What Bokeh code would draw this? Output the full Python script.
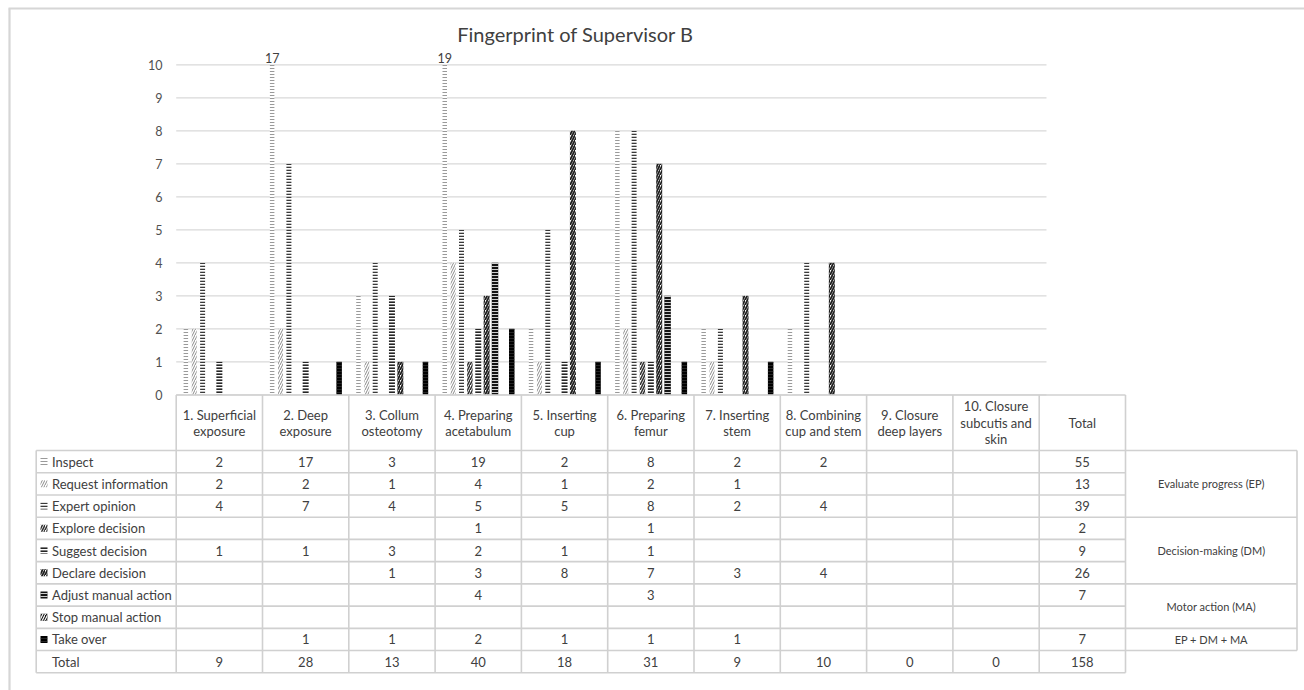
import numpy as np
from bokeh.plotting import figure
from bokeh.models import Range1d, ColumnDataSource
from bokeh.core.properties import value
from bokeh.transform import dodge
from bokeh.embed import file_html
from bokeh.resources import INLINE

# ---------------- data ----------------
title = "Fingerprint of Supervisor B"
phases = ["1. Superficial\nexposure", "2. Deep\nexposure", "3. Collum\nosteotomy",
          "4. Preparing\nacetabulum", "5. Inserting\ncup", "6. Preparing\nfemur",
          "7. Inserting\nstem", "8. Combining\ncup and stem", "9. Closure\ndeep layers",
          "10. Closure\nsubcutis and\nskin"]
behaviours = ["Inspect", "Request information", "Expert opinion", "Explore decision",
              "Suggest decision", "Declare decision", "Adjust manual action",
              "Stop manual action", "Take over"]

inspect = [2, 17, 3, 19, 2, 8, 2, 2, None, None]
request_information = [2, 2, 1, 4, 1, 2, 1, None, None, None]
expert_opinion = [4, 7, 4, 5, 5, 8, 2, 4, None, None]
explore_decision = [None, None, None, 1, None, 1, None, None, None, None]
suggest_decision = [1, 1, 3, 2, 1, 1, None, None, None, None]
declare_decision = [None, None, 1, 3, 8, 7, 3, 4, None, None]
adjust_manual_action = [None, None, None, 4, None, 3, None, None, None, None]
stop_manual_action = [None, None, None, None, None, None, None, None, None, None]
take_over = [None, 1, 1, 2, 1, 1, 1, None, None, None]

series = [inspect, request_information, expert_opinion, explore_decision, suggest_decision,
          declare_decision, adjust_manual_action, stop_manual_action, take_over]

phase_totals = [9, 28, 13, 40, 18, 31, 9, 10, 0, 0]
behaviour_totals = [55, 13, 39, 2, 9, 26, 7, None, 7]
grand_total = 158
total_label = "Total"

groups = ["Evaluate progress (EP)", "Decision-making (DM)", "Motor action (MA)", "EP + DM + MA"]
group_first_row = [0, 3, 6, 8]
group_last_row = [3, 6, 8, 9]

y_ticks = list(range(0, 11))
axis_max = 10

# ---------------- layout (pixels) ----------------
W, H = 1304, 690
PX_X = 86.3              # px per phase column
X0_PX = 175.7            # pixel of x = 0
PX_Y = 33.0              # px per value unit
Y0_PX = 394.3            # pixel of value 0
ROW_PX = 22.23           # px per table row
R0_PX = 450.0            # pixel of first table row top


def px2x(px):
    return (px - X0_PX) / PX_X


def py2y(py):
    return (Y0_PX - py) / PX_Y


x_start, x_end = px2x(0), px2x(W)
y_start, y_end = py2y(H), py2y(0)
r_top = (0 - R0_PX) / ROW_PX
r_bottom = (H - R0_PX) / ROW_PX

SLOT = 8.375 / PX_X
LABEL_COL_LEFT = px2x(35.7)
GROUP_COL_RIGHT = px2x(1296.5)
GRID_RIGHT = px2x(1046)

FONT = value("Lato")
TXT = "#404040"
LINE = "#d0d0d0"

styles = [
    dict(fill_color="white", hatch_pattern="horizontal_line", hatch_color="#9a9a9a", hatch_weight=1.0, hatch_scale=3, w=4.5),
    dict(fill_color="white", hatch_pattern="right_diagonal_line", hatch_color="#8a8a8a", hatch_weight=1.0, hatch_scale=5, w=5),
    dict(fill_color="white", hatch_pattern="horizontal_line", hatch_color="#3a3a3a", hatch_weight=1.6, hatch_scale=3, w=5),
    dict(fill_color="white", hatch_pattern="right_diagonal_line", hatch_color="#333333", hatch_weight=1.6, hatch_scale=5, w=5.5),
    dict(fill_color="white", hatch_pattern="horizontal_line", hatch_color="#262626", hatch_weight=2.2, hatch_scale=3, w=6),
    dict(fill_color="white", hatch_pattern="right_diagonal_line", hatch_color="#1e1e1e", hatch_weight=1.8, hatch_scale=5, w=6),
    dict(fill_color="#141414", hatch_pattern="horizontal_line", hatch_color="white", hatch_weight=0.8, hatch_scale=3, w=6.5),
    dict(fill_color="#141414", hatch_pattern="right_diagonal_line", hatch_color="white", hatch_weight=1.2, hatch_scale=5, w=6.5),
    dict(fill_color="#000000", hatch_pattern="horizontal_line", hatch_color="#4a4a4a", hatch_weight=0.5, hatch_scale=3, w=5.5),
]

p = figure(width=W, height=H, x_range=Range1d(x_start, x_end), y_range=Range1d(y_start, y_end),
           output_backend="svg", toolbar_location=None, min_border=0,
           x_axis_type=None, y_axis_type=None)
p.extra_y_ranges = {"tbl": Range1d(start=r_bottom, end=r_top)}
p.grid.visible = False
p.outline_line_color = None
p.background_fill_color = "white"
p.border_fill_color = "white"

# outer frame (top + left)
p.segment(x0=[px2x(8), px2x(9)], y0=[py2y(8), py2y(8)],
          x1=[x_end, px2x(9)], y1=[py2y(8), y_start],
          line_color="#d6d6d6", line_width=2.2)

# gridlines
p.segment(x0=[0] * len(y_ticks), y0=y_ticks, x1=[GRID_RIGHT] * len(y_ticks), y1=y_ticks,
          line_color="#d9d9d9", line_width=1.3)

# y tick labels
p.text(x=[px2x(162)] * len(y_ticks), y=y_ticks, text=[str(t) for t in y_ticks],
       text_align="right", text_baseline="middle", text_font=FONT,
       text_font_size="12.5px", text_color="#505050")

# title
p.text(x=[px2x(575)], y=[py2y(33)], text=[title],
       text_align="center", text_baseline="middle", text_font=FONT,
       text_font_size="20px", text_color="#404040")

# bars
for j, (vals, st) in enumerate(zip(series, styles)):
    xs = [i + 0.5 for i, v in enumerate(vals) if v]
    tops = [min(v, axis_max) for v in vals if v]
    if not xs:
        continue
    src = ColumnDataSource(dict(x=xs, top=tops))
    p.vbar(x=dodge("x", (j - 4) * SLOT), top="top", bottom=0, width=st["w"] / PX_X, source=src,
           fill_color=st["fill_color"], line_color=None,
           hatch_pattern=st["hatch_pattern"], hatch_color=st["hatch_color"],
           hatch_weight=st["hatch_weight"], hatch_scale=st["hatch_scale"])
    # labels for bars exceeding the axis maximum
    lx = [i + 0.5 for i, v in enumerate(vals) if v and v > axis_max]
    lt = [str(v) for v in vals if v and v > axis_max]
    if lx:
        lsrc = ColumnDataSource(dict(x=lx, y=[axis_max] * len(lx), t=lt))
        p.text(x=dodge("x", (j - 4) * SLOT), y="y", text="t", source=lsrc, y_offset=-2,
               text_align="center", text_baseline="bottom", text_font=FONT,
               text_font_size="12.5px", text_color=TXT)

# ---------------- table ----------------
ncol = len(phases) + 1
nrow = len(behaviours) + 1
# horizontal lines
hx0 = [LABEL_COL_LEFT] * (nrow + 1) + [0]
hx1 = [ncol] * (nrow + 1) + [ncol]
hy = list(range(nrow + 1)) + [-2.5]
p.segment(x0=hx0, y0=hy, x1=hx1, y1=hy, y_range_name="tbl", line_color=LINE, line_width=1.6)
# vertical lines
vx = list(range(ncol + 1)) + [LABEL_COL_LEFT]
vy0 = [-2.5] * (ncol + 1) + [0]
vy1 = [nrow] * (ncol + 2)
p.segment(x0=vx, y0=vy0, x1=vx, y1=vy1, y_range_name="tbl", line_color=LINE, line_width=1.6)
# group column
gy = [0] + group_last_row
p.segment(x0=[ncol] * len(gy), y0=gy, x1=[GROUP_COL_RIGHT] * len(gy), y1=gy,
          y_range_name="tbl", line_color=LINE, line_width=1.6)
p.segment(x0=[GROUP_COL_RIGHT], y0=[0], x1=[GROUP_COL_RIGHT], y1=[group_last_row[-1]],
          y_range_name="tbl", line_color=LINE, line_width=1.6)

# header
p.text(x=[i + 0.5 for i in range(ncol)], y=[-1.25] * ncol, text=phases + [total_label],
       y_range_name="tbl", text_align="center", text_baseline="middle", text_font=FONT,
       text_font_size="13px", text_color=TXT, text_line_height=1.02)

# row labels
p.text(x=[px2x(51.5)] * nrow, y=[r + 0.5 for r in range(nrow)], text=behaviours + [total_label],
       y_range_name="tbl", text_align="left", text_baseline="middle", text_font=FONT,
       text_font_size="13px", text_color=TXT)

# legend keys
for j, st in enumerate(styles):
    p.rect(x=[px2x(43.5)], y=[j + 0.5], width=7, height=7, width_units="screen", height_units="screen",
           y_range_name="tbl", fill_color=st["fill_color"], line_color=None,
           hatch_pattern=st["hatch_pattern"], hatch_color=st["hatch_color"],
           hatch_weight=st["hatch_weight"], hatch_scale=st["hatch_scale"])

# cell values
cx, cy, ct = [], [], []
for j, vals in enumerate(series):
    for i, v in enumerate(vals):
        if v is not None:
            cx.append(i + 0.5); cy.append(j + 0.5); ct.append(str(v))
    if behaviour_totals[j] is not None:
        cx.append(len(phases) + 0.5); cy.append(j + 0.5); ct.append(str(behaviour_totals[j]))
for i, v in enumerate(phase_totals):
    cx.append(i + 0.5); cy.append(len(behaviours) + 0.5); ct.append(str(v))
cx.append(len(phases) + 0.5); cy.append(len(behaviours) + 0.5); ct.append(str(grand_total))
p.text(x=cx, y=cy, text=ct, y_range_name="tbl", text_align="center", text_baseline="middle",
       text_font=FONT, text_font_size="13px", text_color=TXT)

# group labels
gyc = [(a + b) / 2 for a, b in zip(group_first_row, group_last_row)]
p.text(x=[(ncol + GROUP_COL_RIGHT) / 2] * len(groups), y=gyc, text=groups, y_range_name="tbl",
       text_align="center", text_baseline="middle", text_font=FONT,
       text_font_size="11px", text_color=TXT)

open("out.html", "w").write(file_html(p, INLINE))
